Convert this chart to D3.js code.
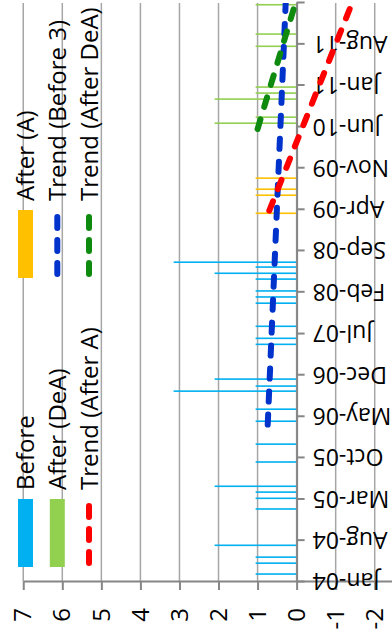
<!DOCTYPE html>
<html><head><meta charset="utf-8">
<script src="https://cdn.jsdelivr.net/npm/d3@7"></script>
<style>
html,body{margin:0;padding:0;background:#fff;}
svg{display:block;font-family:"Open Sans",sans-serif;}
</style>
</head><body>
<svg id="chart" width="392" height="639"></svg>
<script>
// ---------- data ----------
const beforeDates = ["2004-02-11","2004-04-07","2004-05-08","2004-07-08","2005-01-11","2005-03-07","2005-04-08","2005-05-08","2005-09-10","2005-12-11","2006-04-08","2006-06-09","2006-09-10","2006-10-06","2006-11-11","2007-05-09","2007-06-09","2007-08-10","2007-12-07","2008-01-08","2008-02-08","2008-04-09","2008-05-09","2008-06-10","2008-07-05"];
const beforeValues = [1.05,1.05,1.05,2.1,1.05,1.05,1.05,2.1,1.05,1.05,1.05,1.05,3.15,1.05,2.1,1.05,1.05,1.05,1.05,1.05,1.05,1.05,2.1,1.05,3.15];
const afterADates = ["2009-03-14","2009-06-15","2009-07-16","2009-09-11"];
const afterAValues = [1.05,1.05,1.05,1.05];
const afterDeADates = ["2010-06-21","2010-07-22","2010-10-23","2010-11-23","2010-12-24","2011-07-22","2011-09-23","2012-02-21"];
const afterDeAValues = [2.1,1.05,2.1,1.05,1.05,1.05,1.05,1.05];
const trendBeforeDates = ["2006-03-22","2012-03-01"];
const trendBeforeValues = [0.74,0.28];
const trendAfterADates = ["2009-03-28","2012-03-01"];
const trendAfterAValues = [0.70,-1.42];
const trendAfterDeADates = ["2010-05-22","2012-03-01"];
const trendAfterDeAValues = [1.00,0.03];
const valueTicks = [7,6,5,4,3,2,1,0,-1,-2];
const dateTickLabels = ["Jan-04","Aug-04","Mar-05","Oct-05","May-06","Dec-06","Jul-07","Feb-08","Sep-08","Apr-09","Nov-09","Jun-10","Jan-11","Aug-11"];
const legendNames = ["Before","After (A)","After (DeA)","Trend (Before 3)","Trend (After A)","Trend (After DeA)"];

// ---------- setup ----------
const parse = d3.timeParse("%Y-%m-%d");
const svg = d3.select("#chart");
const g = svg.append("g").attr("transform", "translate(0,639) rotate(-90)");

const startDate = parse("2004-01-01"), endDate = parse("2012-03-01");
const x = d3.scaleTime().domain([startDate, endDate]).range([57, 636]);
const y = d3.scaleLinear().domain([-2.45, 7]).range([392.3, 23.25]);

const cBefore = "#00B0F0", cDeA = "#92D050", cA = "#FFC000";
const cTB = "#0033CC", cTA = "#FF0000", cTD = "#0E8A0E";

// gridlines
g.append("g").selectAll("line").data(valueTicks).join("line")
  .attr("x1", 57).attr("x2", 636)
  .attr("y1", d => y(d)).attr("y2", d => y(d))
  .attr("stroke", "#a6a6a6").attr("stroke-width", 1.5);

// bars
function bars(dates, values, color) {
  const data = dates.map((d, i) => ({d: parse(d), v: values[i]}));
  g.append("g").selectAll("rect").data(data).join("rect")
    .attr("x", d => x(d.d) - 0.8).attr("width", 1.6)
    .attr("y", d => y(d.v)).attr("height", d => y(0) - y(d.v))
    .attr("fill", color);
}
bars(beforeDates, beforeValues, cBefore);
bars(afterADates, afterAValues, cA);
bars(afterDeADates, afterDeAValues, cDeA);

// axes
const yAxis = g.append("g").attr("transform", "translate(57,0)")
  .call(d3.axisLeft(y).tickValues(valueTicks).tickSize(8).tickSizeOuter(0).tickPadding(18).tickFormat(d => String(d)));
const tickDates = d3.range(0, 99, 7).map(m => d3.timeMonth.offset(startDate, m));
const xAxis = g.append("g").attr("transform", `translate(0,${y(0)})`)
  .call(d3.axisBottom(x).tickValues(tickDates).tickSize(8).tickSizeOuter(0).tickFormat((d, i) => dateTickLabels[i] || ""));
xAxis.selectAll("text").attr("transform", "rotate(-90)").attr("text-anchor", "end")
  .attr("x", -16).attr("y", 0).attr("dy", "0.35em");
[yAxis, xAxis].forEach(a => {
  a.selectAll("path,line").attr("stroke", "#868686").attr("stroke-width", 2);
  a.selectAll("text").attr("fill", "#000").style("font-size", "24px").style("font-family", "Open Sans");
});
xAxis.selectAll("text").style("font-size", "23px");

// trend lines
g.append("clipPath").attr("id", "plotclip").append("rect")
  .attr("x", 57).attr("y", 23.25).attr("width", 636 - 57).attr("height", 392.3 - 23.25);
const line = d3.line().x(d => x(d.d)).y(d => y(d.v));
function trend(dates, values, color) {
  const data = dates.map((d, i) => ({d: parse(d), v: values[i]}));
  g.append("path").datum(data).attr("d", line).attr("clip-path", "url(#plotclip)")
    .attr("fill", "none").attr("stroke", color).attr("stroke-width", 6)
    .attr("stroke-linecap", "round").attr("stroke-dasharray", "10,13");
}
trend(trendBeforeDates, trendBeforeValues, cTB);
trend(trendAfterADates, trendAfterAValues, cTA);
trend(trendAfterDeADates, trendAfterDeAValues, cTD);

// legend
const colX = [72, 361], rowY = [25.5, 57.3, 89];
const legendTypes = [["rect", cBefore], ["rect", cA], ["rect", cDeA], ["dash", cTB], ["dash", cTA], ["dash", cTD]];
const lg = g.append("g");
legendNames.forEach((name, i) => {
  const cx = colX[i % 2], cy = rowY[Math.floor(i / 2)];
  const [type, color] = legendTypes[i];
  if (type === "rect") {
    lg.append("rect").attr("x", cx).attr("y", cy - 7.5).attr("width", 68).attr("height", 15).attr("fill", color);
  } else {
    lg.append("line").attr("x1", cx + 4).attr("x2", cx + 61).attr("y1", cy).attr("y2", cy)
      .attr("stroke", color).attr("stroke-width", 6).attr("stroke-linecap", "round").attr("stroke-dasharray", "11,12");
  }
  lg.append("text").attr("x", cx + 77).attr("y", cy + 8.5).text(name)
    .attr("fill", "#000").style("font-size", "24px");
});
</script>
</body></html>
